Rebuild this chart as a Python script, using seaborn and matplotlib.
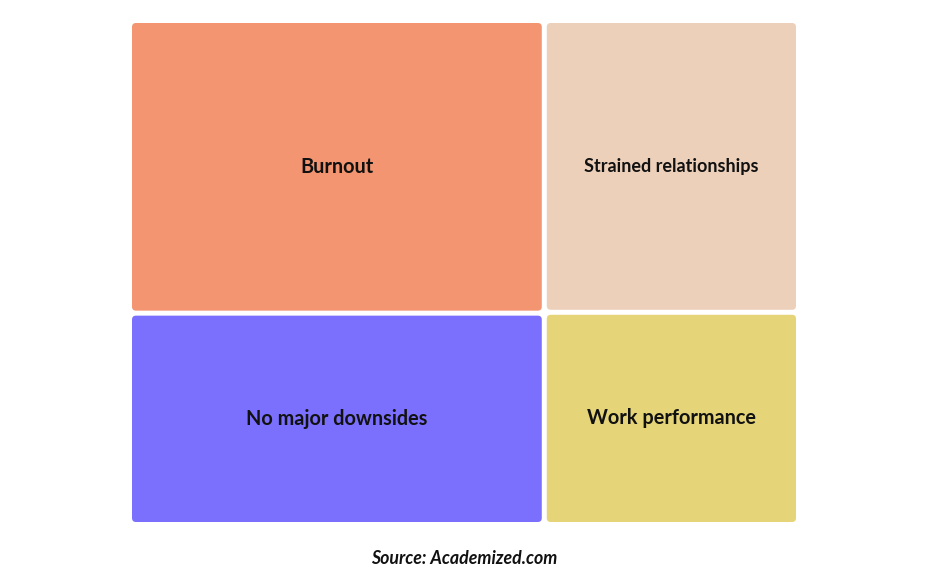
import matplotlib
matplotlib.use("Agg")
import matplotlib.pyplot as plt
import seaborn as sns
from matplotlib.patches import FancyBboxPatch

sns.set_theme(style="white")
plt.rcParams['font.family'] = ['Lato', 'DejaVu Sans']

labels = ["Burnout", "No major downsides", "Strained relationships", "Work performance"]
values = [36, 26, 22, 16]
colors = ["#F29570", "#7B70FD", "#EDD0BA", "#E5D478"]
label_sizes = [14.3, 14.3, 13, 14.3]


def worst(row, w):
    s = sum(row)
    rmax, rmin = max(row), min(row)
    return max(w * w * rmax / (s * s), (s * s) / (w * w * rmin))


def squarify(vals, x, y, dx, dy):
    total = sum(vals)
    areas = [v * dx * dy / total for v in vals]
    rects = []
    while areas:
        w = min(dx, dy)
        row = [areas[0]]
        i = 1
        while i < len(areas) and worst(row + [areas[i]], w) <= worst(row, w):
            row.append(areas[i])
            i += 1
        s = sum(row)
        if dx >= dy:
            cw = s / dy
            cy = y
            for a in row:
                h = a / cw
                rects.append((x, cy, cw, h))
                cy += h
            x += cw
            dx -= cw
        else:
            rh = s / dx
            cx = x
            for a in row:
                ww = a / rh
                rects.append((cx, y, ww, rh))
                cx += ww
            y += rh
            dy -= rh
        areas = areas[i:]
    return rects


W, H = 927, 581
fig = plt.figure(figsize=(W / 100, H / 100), dpi=100)
x0, x1, y0, y1 = 129.5, 798.5, 20.5, 524.5
ax = fig.add_axes([x0 / W, 1 - y1 / H, (x1 - x0) / W, (y1 - y0) / H])
aw, ah = x1 - x0, y1 - y0
ax.set_xlim(0, aw)
ax.set_ylim(ah, 0)
ax.axis("off")

gap = 2.5
rects = squarify(values, 0, 0, aw, ah)
for (rx, ry, rw, rh), lab, col, fs in zip(rects, labels, colors, label_sizes):
    p = FancyBboxPatch((rx + gap, ry + gap), rw - 2 * gap, rh - 2 * gap,
                       boxstyle="round,pad=0,rounding_size=4",
                       facecolor=col, edgecolor="none")
    ax.add_patch(p)
    ax.text(rx + rw / 2, ry + rh / 2, lab, ha="center", va="center",
            fontsize=fs, fontweight="bold", color="#111111")

fig.text(464 / W, 1 - 558 / H, "Source: Academized.com", ha="center", va="center",
         fontsize=12.8, fontweight="bold", fontstyle="italic", color="#111111")

fig.savefig("out.png", dpi=100, facecolor="white")
